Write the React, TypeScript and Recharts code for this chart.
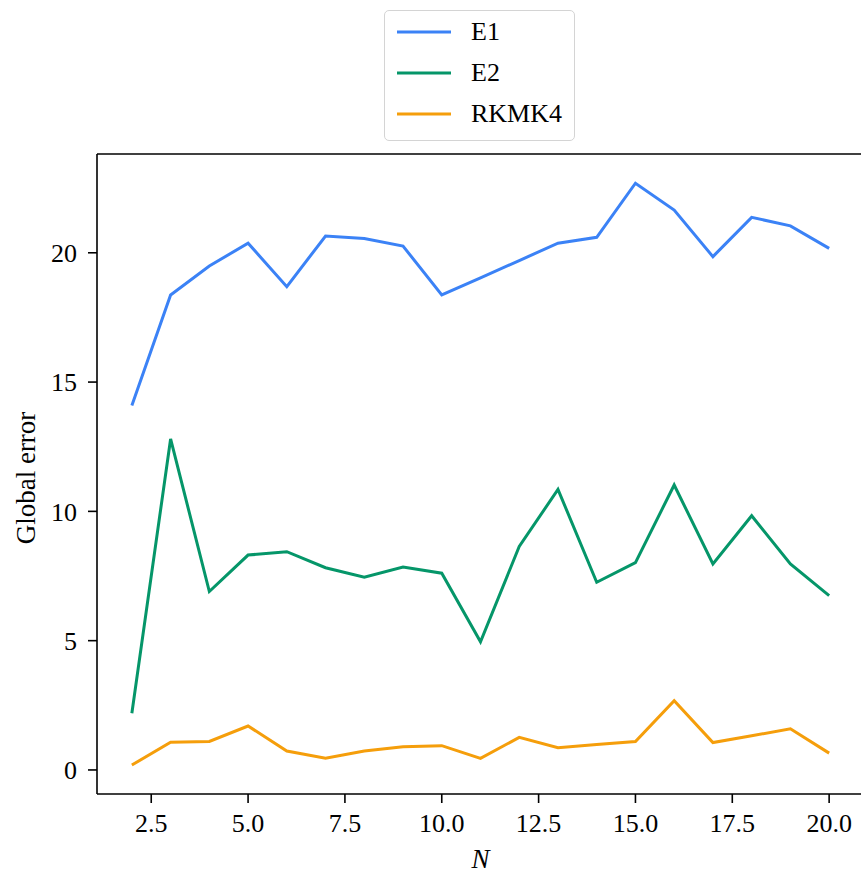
import React from "react";
import { LineChart, Line, XAxis, YAxis, Legend, Label } from "recharts";

const nValues = [2, 3, 4, 5, 6, 7, 8, 9, 10, 11, 12, 13, 14, 15, 16, 17, 18, 19, 20];
const e1Values = [14.09, 18.37, 19.49, 20.37, 18.69, 20.65, 20.55, 20.26, 18.37, 19.03, 19.7, 20.37, 20.6, 22.69, 21.65, 19.85, 21.37, 21.04, 20.17];
const e2Values = [2.19, 12.8, 6.9, 8.31, 8.44, 7.82, 7.45, 7.85, 7.61, 4.96, 8.64, 10.85, 7.26, 8.02, 11.02, 7.97, 9.83, 7.97, 6.74];
const rkmk4Values = [0.19, 1.07, 1.1, 1.7, 0.73, 0.45, 0.73, 0.9, 0.94, 0.45, 1.26, 0.86, 0.98, 1.1, 2.68, 1.06, 1.32, 1.59, 0.65];
const xTicks = [2.5, 5, 7.5, 10, 12.5, 15, 17.5, 20];
const yTicks = [0, 5, 10, 15, 20];
const seriesNames = ["E1", "E2", "RKMK4"];
const seriesColors = ["#3b82f6", "#059669", "#f59e0b"];

const data = nValues.map((n, i) => ({ N: n, E1: e1Values[i], E2: e2Values[i], RKMK4: rkmk4Values[i] }));

const FONT = "'Liberation Serif', 'Times New Roman', serif";
const xDomain = [1.1, 20.9];
const yDomain = [-0.93, 23.82];

const renderLegend = (props: any) => {
  const payload = props.payload || [];
  return (
    <div
      style={{
        position: "relative",
        width: 191,
        height: 131,
        boxSizing: "border-box",
        border: "1.5px solid #d4d4d4",
        borderRadius: 5,
        background: "rgba(255,255,255,0.8)",
        fontFamily: FONT,
        fontSize: 26,
        color: "#000",
      }}
    >
      {payload.map((p: any, i: number) => (
        <div key={p.value} style={{ position: "absolute", left: 0, top: 21 + i * 41 - 16, height: 32, width: 189 }}>
          <svg width={70} height={32} style={{ position: "absolute", left: 0, top: 0 }}>
            <line x1={12} x2={66} y1={16} y2={16} stroke={p.color} strokeWidth={3} />
          </svg>
          <span style={{ position: "absolute", left: 86, top: 0, lineHeight: "32px", whiteSpace: "nowrap" }}>{p.value}</span>
        </div>
      ))}
    </div>
  );
};

export default function App() {
  return (
    <div style={{ position: "fixed", left: 0, top: 0, width: 861, height: 874, overflow: "hidden", background: "#fff" }}>
      <LineChart width={861} height={874} data={data} margin={{ top: 153, right: -3, left: 0, bottom: 0 }}>
        <XAxis
          xAxisId="top"
          orientation="top"
          type="number"
          dataKey="N"
          domain={xDomain}
          allowDataOverflow
          height={1}
          tick={false}
          tickLine={false}
          axisLine={{ stroke: "#000", strokeWidth: 1.6 }}
        />
        <XAxis
          type="number"
          dataKey="N"
          domain={xDomain}
          allowDataOverflow
          ticks={xTicks}
          interval={0}
          height={80}
          tickSize={9}
          tickMargin={11}
          tickFormatter={(v: number) => v.toFixed(1)}
          tick={{ fill: "#000", fontSize: 26, fontFamily: FONT }}
          tickLine={{ stroke: "#000", strokeWidth: 1.6 }}
          axisLine={{ stroke: "#000", strokeWidth: 1.6 }}
        >
          <Label
            content={(p: any) => {
              const vb = p.viewBox;
              return (
                <text x={vb.x + vb.width / 2} y={vb.y + 74} textAnchor="middle" fontFamily={FONT} fontSize={27} fontStyle="italic" fill="#000">
                  N
                </text>
              );
            }}
          />
        </XAxis>
        <YAxis
          type="number"
          domain={yDomain}
          allowDataOverflow
          ticks={yTicks}
          interval={0}
          width={97}
          tickSize={9}
          tickMargin={11}
          tick={{ fill: "#000", fontSize: 26, fontFamily: FONT }}
          tickLine={{ stroke: "#000", strokeWidth: 1.6 }}
          axisLine={{ stroke: "#000", strokeWidth: 1.6 }}
        >
          <Label
            content={(p: any) => {
              const vb = p.viewBox;
              const cx = 26;
              const cy = vb.y + vb.height / 2 + 4;
              return (
                <text
                  x={cx}
                  y={cy}
                  transform={`rotate(-90 ${cx} ${cy})`}
                  textAnchor="middle"
                  dominantBaseline="central"
                  fontFamily={FONT}
                  fontSize={27}
                  fill="#000"
                >
                  Global error
                </text>
              );
            }}
          />
        </YAxis>
        <Legend
          layout="horizontal"
          verticalAlign="middle"
          align="center"
          wrapperStyle={{ top: 10, left: 384, width: 191, height: 131 }}
          content={renderLegend}
        />
        {seriesNames.map((name, i) => (
          <Line
            key={name}
            type="linear"
            dataKey={name}
            name={name}
            stroke={seriesColors[i]}
            strokeWidth={3}
            dot={false}
            activeDot={false}
            isAnimationActive={false}
          />
        ))}
      </LineChart>
    </div>
  );
}
